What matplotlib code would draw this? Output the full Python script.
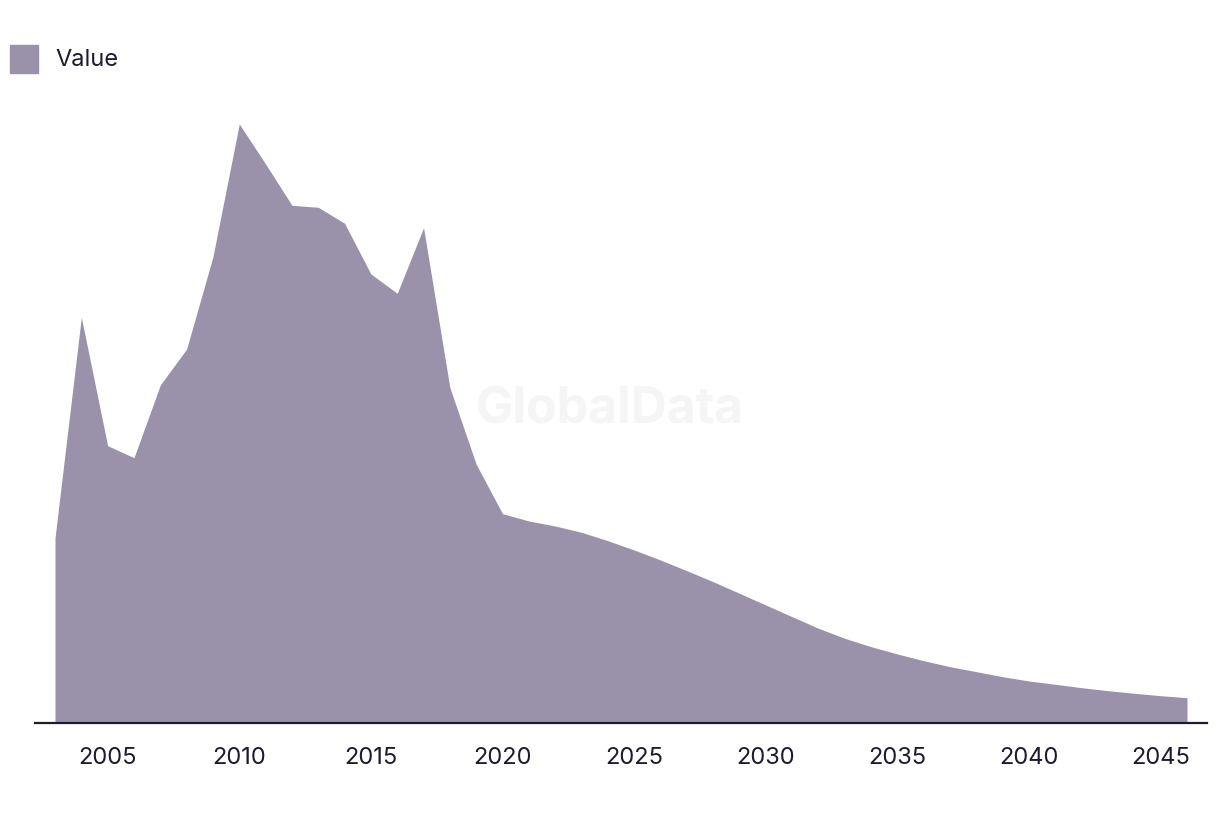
import matplotlib
matplotlib.use("Agg")
import matplotlib.pyplot as plt
from matplotlib.patches import Rectangle

years = list(range(2003, 2047))
values = [185, 405.7, 277.3, 265.3, 338, 374, 466.3, 599, 559, 517.7,
          515.7, 499.7, 449, 429.7, 495.3, 335.3, 258.7, 209.3, 202, 197,
          190.7, 182.3, 173, 163, 152.3, 141.3, 129.7, 118, 106.3, 94.7,
          84.7, 76.3, 69, 62.3, 56.3, 51.3, 46.3, 42, 38.7, 35.3,
          32.3, 29.7, 27.3, 25.3]
tick_years = [2005, 2010, 2015, 2020, 2025, 2030, 2035, 2040, 2045]
series_name = "Value"

fill_color = "#9a91aa"
text_color = "#1c1b30"

plt.rcParams['font.family'] = ['Inter', 'DejaVu Sans']

W, H = 1220, 814
fig = plt.figure(figsize=(W / 100, H / 100), dpi=100)
ax = fig.add_axes([35 / W, 1 - 723 / H, (1207 - 35) / W, (723 - 100) / H])

ax.fill_between(years, values, 0, color=fill_color, linewidth=0, zorder=2)

ax.set_xlim(2003 - 20 / 26.33, 2046 + 20 / 26.33)
ax.set_ylim(0, 623)

for s in ['top', 'right', 'left']:
    ax.spines[s].set_visible(False)
ax.spines['bottom'].set_color(text_color)
ax.spines['bottom'].set_linewidth(1.6)
ax.spines['bottom'].set_zorder(3)
ax.set_yticks([])
ax.set_xticks(tick_years)
ax.set_xticklabels([str(y) for y in tick_years])
ax.tick_params(axis='x', length=0, pad=17, labelsize=17, labelcolor=text_color)

# watermark
ax.text((610 - 35) / (1207 - 35), (723 - 410) / 623, "GlobalData",
        transform=ax.transAxes, ha='center', va='center', fontsize=36,
        fontweight='bold', color='#f5f5f5', zorder=1)

# legend
fig.patches.append(Rectangle((10 / W, 1 - 73 / H), 28 / W, 28 / H,
                             transform=fig.transFigure, color=fill_color))
fig.text(55 / W, 1 - 60 / H, series_name, ha='left', va='center',
         fontsize=17, color=text_color)

fig.savefig("out.png", dpi=100)
